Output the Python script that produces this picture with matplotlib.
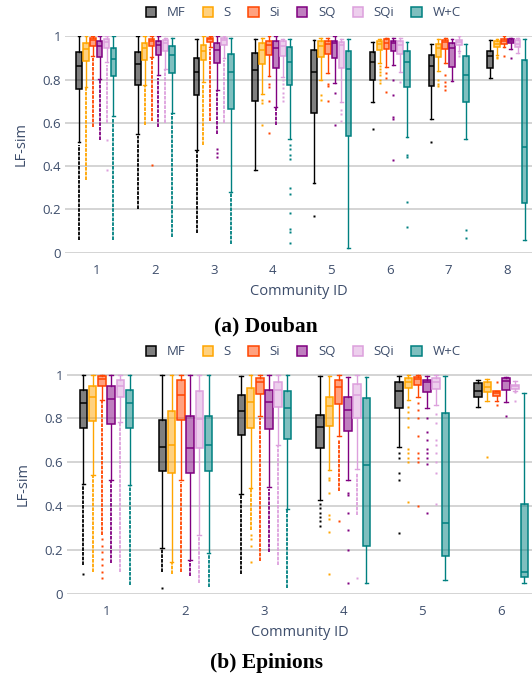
import matplotlib
matplotlib.use("Agg")
import matplotlib.pyplot as plt
from matplotlib.patches import Patch
from matplotlib.colors import to_rgba

metodi = ["MF", "S", "Si", "SQ", "SQi", "W+C"]
colori = ["black", "orange", "orangered", "purple", "plum", "teal"]

# ---- Douban: per comunità (whislo, q1, mediana, q3, whishi) ----
douban_comunita = [1, 2, 3, 4, 5, 6, 7, 8]

douban_mf = [(0.51, 0.757, 0.864, 0.927, 1.0), (0.55, 0.777, 0.873, 0.93, 1.0),
             (0.476, 0.731, 0.835, 0.90, 0.99), (0.38, 0.702, 0.846, 0.922, 0.99),
             (0.323, 0.644, 0.837, 0.937, 0.983), (0.695, 0.80, 0.884, 0.927, 0.976),
             (0.618, 0.773, 0.861, 0.915, 0.965), (0.808, 0.855, 0.908, 0.934, 0.983)]
douban_s = [(0.766, 0.885, 0.942, 0.969, 1.0), (0.774, 0.892, 0.948, 0.971, 1.0),
            (0.79, 0.889, 0.934, 0.962, 1.0), (0.733, 0.873, 0.939, 0.968, 0.995),
            (0.797, 0.904, 0.957, 0.977, 0.995), (0.876, 0.937, 0.963, 0.979, 0.99),
            (0.838, 0.904, 0.947, 0.965, 0.99), (0.916, 0.95, 0.965, 0.979, 0.99)]
douban_si = [(0.91, 0.957, 0.985, 0.992, 1.0), (0.904, 0.954, 0.98, 0.99, 1.0),
             (0.95, 0.974, 0.99, 0.995, 1.0), (0.815, 0.915, 0.96, 0.98, 1.0),
             (0.832, 0.919, 0.966, 0.98, 0.995), (0.858, 0.942, 0.968, 0.986, 0.995),
             (0.878, 0.942, 0.973, 0.985, 0.995), (0.95, 0.965, 0.977, 0.988, 1.0)]
douban_sq = [(0.805, 0.904, 0.954, 0.977, 1.0), (0.82, 0.916, 0.96, 0.977, 1.0),
             (0.75, 0.878, 0.939, 0.968, 1.0), (0.675, 0.853, 0.948, 0.977, 1.0),
             (0.785, 0.90, 0.968, 0.98, 1.0), (0.866, 0.934, 0.968, 0.98, 0.995),
             (0.792, 0.858, 0.947, 0.969, 0.99), (0.942, 0.968, 0.979, 0.988, 0.995)]
douban_sqi = [(0.88, 0.947, 0.972, 0.986, 1.0), (0.85, 0.931, 0.971, 0.983, 0.995),
              (0.90, 0.96, 0.985, 0.992, 1.0), (0.812, 0.908, 0.957, 0.978, 0.99),
              (0.698, 0.855, 0.96, 0.976, 0.99), (0.835, 0.919, 0.962, 0.98, 0.995),
              (0.934, 0.96, 0.976, 0.983, 1.0), (0.922, 0.95, 0.965, 0.983, 0.995)]
douban_wc = [(0.63, 0.815, 0.895, 0.945, 1.0), (0.645, 0.83, 0.915, 0.954, 0.995),
             (0.28, 0.663, 0.837, 0.92, 0.995), (0.525, 0.777, 0.884, 0.95, 0.99),
             (0.023, 0.539, 0.849, 0.933, 0.99), (0.533, 0.766, 0.884, 0.934, 0.976),
             (0.525, 0.695, 0.82, 0.91, 0.965), (0.057, 0.231, 0.49, 0.893, 0.99)]

# outlier sparsi
douban_mf_out = [[], [], [], [], [0.17], [0.57], [0.51], []]
douban_s_out = [[], [], [], [0.705, 0.69, 0.59], [0.728, 0.705], [0.865, 0.85, 0.835, 0.82, 0.80, 0.785],
                [0.80, 0.78, 0.77], [0.905, 0.90]]
douban_si_out = [[], [0.405], [], [0.78, 0.765, 0.70, 0.555], [0.78, 0.77, 0.70], [0.83, 0.81, 0.745],
                 [0.82, 0.79, 0.77, 0.75], [0.91]]
douban_sq_out = [[], [], [0.48, 0.46, 0.44], [], [0.74, 0.59], [0.80, 0.73, 0.625, 0.62, 0.43], [], [0.90]]
douban_sqi_out = [[0.52, 0.38], [], [], [0.80, 0.78, 0.76, 0.74, 0.72, 0.70], [0.66, 0.64, 0.61], [0.79],
                  [0.925, 0.91], []]
douban_wc_out = [[], [], [], [0.50, 0.48, 0.45, 0.435, 0.30, 0.27, 0.185, 0.11, 0.095, 0.045], [],
                 [0.45, 0.44, 0.235, 0.12], [0.105, 0.066], []]

# colonne fitte di outlier (da, a)
douban_mf_fitti = [(0.06, 0.50), (0.20, 0.54), (0.09, 0.47), None, None, None, None, None]
douban_s_fitti = [(0.335, 0.76), (0.59, 0.77), (0.50, 0.78), None, None, None, None, None]
douban_si_fitti = [(0.58, 0.90), (0.61, 0.90), (0.61, 0.94), None, None, None, None, None]
douban_sq_fitti = [(0.52, 0.80), (0.58, 0.81), (0.55, 0.75), (0.59, 0.67), None, None, None, None]
douban_sqi_fitti = [(0.60, 0.87), (0.60, 0.85), (0.60, 0.89), None, None, None, None, None]
douban_wc_fitti = [(0.06, 0.62), (0.07, 0.64), (0.04, 0.28), None, None, None, None, None]

# ---- Epinions ----
epinions_comunita = [1, 2, 3, 4, 5, 6]

epinions_mf = [(0.503, 0.758, 0.87, 0.928, 1.0), (0.21, 0.559, 0.671, 0.793, 1.0),
               (0.457, 0.726, 0.836, 0.905, 0.995), (0.426, 0.663, 0.76, 0.816, 0.992),
               (0.668, 0.847, 0.923, 0.965, 0.992), (0.85, 0.896, 0.923, 0.962, 0.974)]
epinions_s = [(0.541, 0.789, 0.897, 0.95, 1.0), (0.145, 0.553, 0.679, 0.832, 1.0),
              (0.484, 0.755, 0.875, 0.939, 1.0), (0.564, 0.766, 0.858, 0.90, 0.995),
              (0.882, 0.939, 0.965, 0.985, 1.0), (0.881, 0.92, 0.943, 0.965, 0.982)]
epinions_si = [(0.885, 0.946, 0.982, 0.992, 1.0), (0.518, 0.793, 0.908, 0.974, 1.0),
               (0.809, 0.913, 0.965, 0.983, 1.0), (0.721, 0.867, 0.943, 0.974, 1.0),
               (0.897, 0.954, 0.98, 0.989, 1.0), (0.88, 0.902, 0.915, 0.927, 0.927)]
epinions_sq = [(0.521, 0.775, 0.888, 0.946, 1.0), (0.153, 0.549, 0.663, 0.809, 1.0),
               (0.487, 0.752, 0.875, 0.93, 1.0), (0.521, 0.744, 0.839, 0.90, 0.99),
               (0.847, 0.92, 0.965, 0.974, 0.995), (0.873, 0.931, 0.969, 0.985, 0.99)]
epinions_sqi = [(0.783, 0.897, 0.95, 0.976, 1.0), (0.27, 0.663, 0.798, 0.923, 1.0),
                (0.679, 0.85, 0.928, 0.965, 1.0), (0.567, 0.801, 0.908, 0.957, 1.0),
                (0.862, 0.934, 0.965, 0.985, 1.0), (0.927, 0.934, 0.946, 0.951, 0.969)]
epinions_wc = [(0.495, 0.755, 0.87, 0.928, 1.0), (0.186, 0.559, 0.679, 0.812, 1.0),
               (0.385, 0.706, 0.847, 0.923, 1.0), (0.05, 0.22, 0.587, 0.893, 0.989),
               (0.063, 0.174, 0.324, 0.824, 0.992), (0.049, 0.078, 0.098, 0.411, 0.916)]

epinions_mf_out = [[0.09], [0.025], [], [0.41, 0.39, 0.37, 0.35, 0.33, 0.31], [0.64, 0.62, 0.55, 0.52, 0.278], []]
epinions_s_out = [[], [], [0.27, 0.25, 0.22, 0.145], [0.53, 0.52, 0.46, 0.36, 0.34, 0.28, 0.09],
                  [0.85, 0.83, 0.80, 0.76, 0.66, 0.64, 0.62, 0.60, 0.42], [0.625]]
epinions_si_out = [[0.25, 0.22, 0.19, 0.16, 0.13, 0.10, 0.07], [], [], [0.33],
                   [0.87, 0.84, 0.80, 0.72, 0.64, 0.62, 0.60, 0.40], [0.965, 0.86]]
epinions_sq_out = [[], [], [], [0.46, 0.45, 0.37, 0.29, 0.20, 0.05],
                   [0.80, 0.74, 0.70, 0.66, 0.64, 0.62, 0.59, 0.37], [0.81]]
epinions_sqi_out = [[], [], [], [0.07], [0.82, 0.78, 0.70, 0.68, 0.64, 0.60, 0.55, 0.41], [0.92, 0.88]]
epinions_wc_out = [[], [], [], [], [], []]

epinions_mf_fitti = [(0.13, 0.50), (0.10, 0.21), (0.09, 0.45), None, None, None]
epinions_s_fitti = [(0.10, 0.54), (0.09, 0.14), (0.29, 0.48), None, None, None]
epinions_si_fitti = [(0.27, 0.88), (0.10, 0.51), (0.15, 0.80), (0.47, 0.70), None, None]
epinions_sq_fitti = [(0.14, 0.52), (0.08, 0.15), (0.19, 0.48), None, None, None]
epinions_sqi_fitti = [(0.10, 0.78), (0.05, 0.27), (0.13, 0.68), (0.36, 0.55), None, None]
epinions_wc_fitti = [(0.04, 0.49), (0.03, 0.18), (0.025, 0.38), None, None, None]

colore_testo = "#3d4d6b"
colore_griglia = "#c9c9c9"


def disegna_pannello(ax, comunita, statistiche, outlier, fitti, limiti_x):
    passo = 0.117
    larghezza = 0.095
    for k, colore in enumerate(colori):
        posizioni = [c + (k - 2.5) * passo for c in comunita]
        scatole = []
        for s, out in zip(statistiche[k], outlier[k]):
            scatole.append(dict(whislo=s[0], q1=s[1], med=s[2], q3=s[3], whishi=s[4], fliers=out))
        ax.bxp(scatole, positions=posizioni, widths=larghezza, capwidths=larghezza * 0.5,
               patch_artist=True, showfliers=True,
               boxprops=dict(facecolor=to_rgba(colore, 0.5), edgecolor=colore, linewidth=1.1),
               medianprops=dict(color=colore, linewidth=1.1),
               whiskerprops=dict(color=colore, linewidth=1.0),
               capprops=dict(color=colore, linewidth=1.0),
               flierprops=dict(marker="s", markersize=1.7, markerfacecolor=colore,
                               markeredgecolor="none"))
        # colonne di outlier molto fitte
        for p, tratto in zip(posizioni, fitti[k]):
            if tratto is not None:
                ax.vlines(p, tratto[0], tratto[1], colors=colore, linewidth=1.3,
                          linestyles=(0, (2.0, 0.6)))

    ax.set_xlim(*limiti_x)
    ax.set_ylim(0, 1.004)
    ax.set_yticks([0, 0.2, 0.4, 0.6, 0.8, 1.0])
    ax.set_yticklabels(["0", "0.2", "0.4", "0.6", "0.8", "1"])
    ax.set_xticks(comunita)
    ax.set_xticklabels([str(c) for c in comunita])
    ax.grid(axis="y", color=colore_griglia, linewidth=1.1)
    ax.set_axisbelow(True)
    for lato in ax.spines.values():
        lato.set_visible(False)
    ax.tick_params(length=0, labelsize=9.5, colors=colore_testo, pad=8)
    ax.tick_params(axis="y", pad=3)
    ax.set_ylabel("LF-sim", fontsize=10.5, color=colore_testo, labelpad=10)
    ax.set_xlabel("Community ID", fontsize=10.5, color=colore_testo, labelpad=5)


plt.rcParams["font.family"] = ["Open Sans", "DejaVu Sans"]
fig = plt.figure(figsize=(5.32, 6.79), dpi=100)

ax1 = fig.add_axes([0.123, 0.628, 0.877, 0.3196])
disegna_pannello(ax1, douban_comunita,
                 [douban_mf, douban_s, douban_si, douban_sq, douban_sqi, douban_wc],
                 [douban_mf_out, douban_s_out, douban_si_out, douban_sq_out, douban_sqi_out, douban_wc_out],
                 [douban_mf_fitti, douban_s_fitti, douban_si_fitti, douban_sq_fitti, douban_sqi_fitti,
                  douban_wc_fitti],
                 (0.475, 8.42))

ax2 = fig.add_axes([0.126, 0.1256, 0.874, 0.324])
disegna_pannello(ax2, epinions_comunita,
                 [epinions_mf, epinions_s, epinions_si, epinions_sq, epinions_sqi, epinions_wc],
                 [epinions_mf_out, epinions_s_out, epinions_si_out, epinions_sq_out, epinions_sqi_out,
                  epinions_wc_out],
                 [epinions_mf_fitti, epinions_s_fitti, epinions_si_fitti, epinions_sq_fitti,
                  epinions_sqi_fitti, epinions_wc_fitti],
                 (0.5, 6.39))

maniglie = [Patch(facecolor=to_rgba(c, 0.5), edgecolor=c, linewidth=1.1, label=m)
            for m, c in zip(metodi, colori)]
for y in [0.981, 0.4816]:
    fig.legend(handles=maniglie, loc="center", bbox_to_anchor=(0.57, y), ncol=6, frameon=False,
               fontsize=9.5, handlelength=0.8, handleheight=0.8, handletextpad=0.8,
               columnspacing=1.3, labelcolor=colore_testo)

fig.text(0.5, 1 - 326 / 679, "(a) Douban", ha="center", va="center", fontsize=15.5,
         fontweight="bold", family="Liberation Serif")
fig.text(0.5, 1 - 663 / 679, "(b) Epinions", ha="center", va="center", fontsize=15.5,
         fontweight="bold", family="Liberation Serif")

fig.savefig("out.png", dpi=100)
